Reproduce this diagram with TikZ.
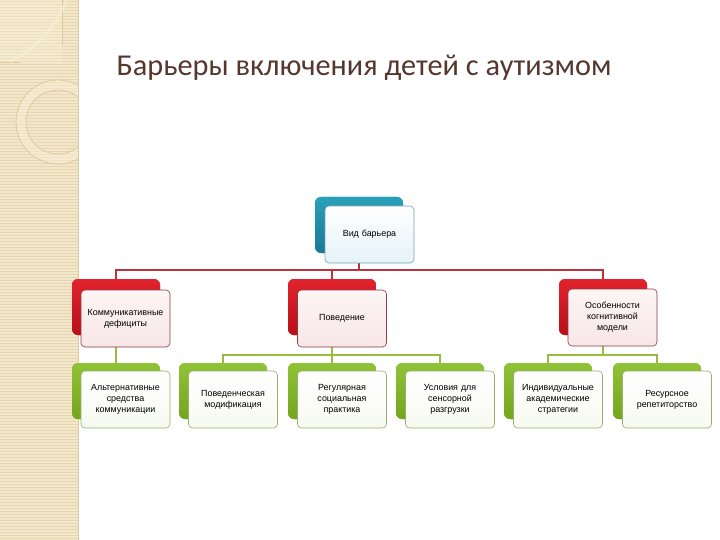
\documentclass[tikz,border=0pt]{standalone}
\usepackage{fontspec}
\setmainfont{Liberation Sans}
\newfontfamily\titlefont{Carlito}
\definecolor{beige}{RGB}{243,231,203}
\definecolor{beigeline}{RGB}{232,214,176}
\definecolor{beigeedge}{RGB}{222,202,160}
\definecolor{beigelight}{RGB}{248,240,218}
\definecolor{beigedark}{RGB}{222,200,158}
\definecolor{titlecol}{RGB}{85,55,45}
\definecolor{tealA}{RGB}{40,160,185}
\definecolor{tealB}{RGB}{25,120,150}
\definecolor{redA}{RGB}{225,35,45}
\definecolor{redB}{RGB}{185,15,25}
\definecolor{greenA}{RGB}{145,195,55}
\definecolor{greenB}{RGB}{115,165,30}
\definecolor{redconncol}{RGB}{185,50,60}
\definecolor{greenconncol}{RGB}{150,190,60}
\definecolor{tealborder}{RGB}{120,160,180}
\definecolor{redborder}{RGB}{140,60,65}
\definecolor{greenborder}{RGB}{150,175,105}
\tikzset{
  backbox/.style={rounded corners=6pt, minimum width=88pt, minimum height=56pt, inner sep=0pt},
  tealback/.style={backbox, top color=tealA, bottom color=tealB},
  redback/.style={backbox, top color=redA, bottom color=redB},
  greenback/.style={backbox, top color=greenA, bottom color=greenB},
  frontbox/.style={rounded corners=4pt, minimum width=89pt, minimum height=57pt, inner sep=1pt,
     text width=87pt, align=center, font=\fontsize{8.9}{11}\selectfont, line width=0.6pt},
  tealfront/.style={frontbox, draw=tealborder, top color=white, bottom color={rgb,255:red,228;green,242;blue,247}},
  redfront/.style={frontbox, draw=redborder, top color={rgb,255:red,253;green,245;blue,245}, bottom color={rgb,255:red,247;green,230;blue,232}},
  greenfront/.style={frontbox, draw=greenborder, top color=white, bottom color={rgb,255:red,247;green,250;blue,240}},
  redconn/.style={draw=redconncol, line width=1.6pt},
  greenconn/.style={draw=greenconncol, line width=1.6pt},
}
\begin{document}
\begin{tikzpicture}[x=1pt,y=-1pt]
\useasboundingbox (0,0) rectangle (720,540);
\fill[white] (0,0) rectangle (720,540);
% left decorative strip
\fill[beige] (0,0) rectangle (78,540);
\foreach \yy in {1.5,4.5,...,540} {\draw[beigeline, line width=0.8pt] (0,\yy) -- (78,\yy);}
\begin{scope}
\clip (0,0) rectangle (78,540);
\fill[beigelight, opacity=0.35] (0,0) rectangle (62,62);
\draw[beigedark, line width=0.8pt] (0,62) -- (20,62);
\draw[beigedark, line width=0.8pt] (62,0) -- (62,45);
\draw[beigelight, opacity=0.6, line width=2.5pt] (10,62) .. controls (40,45) and (58,25) .. (66,0);
\draw[beigelight, opacity=0.45, line width=10pt] (58,122) circle (37);
\draw[beigedark, line width=0.8pt] (58,122) circle (42);
\draw[beigedark, line width=0.8pt] (58,122) circle (32);
\end{scope}
\draw[beigeedge, line width=1pt] (78,0) -- (78,540);
% title
\node[font=\titlefont\fontsize{30.3}{34}\selectfont, text=titlecol] (title) at (364,68) {Барьеры включения детей с аутизмом};
% bus coordinates
\coordinate (busA) at (0,270);
\coordinate (busB) at (0,355);
% back boxes positions (nodes)
\node[tealback] (topb) at (359,225) {};
\node[redback] (r1b) at (116,307) {};
\node[redback] (r2b) at (332,307) {};
\node[redback] (r3b) at (603,307) {};
\node[greenback] (g1b) at (116,391) {};
\node[greenback] (g2b) at (223,391) {};
\node[greenback] (g3b) at (332,391) {};
\node[greenback] (g4b) at (440,391) {};
\node[greenback] (g5b) at (548,391) {};
\node[greenback] (g6b) at (657,391) {};
% connectors
\draw[redconn] (topb.south) -- (topb.south |- busA) -| (r1b.north);
\draw[redconn] (topb.south |- busA) -| (r2b.north);
\draw[redconn] (topb.south |- busA) -| (r3b.north);
\draw[greenconn] (r1b.south) -- (g1b.north);
\draw[greenconn] (r2b.south) -- (r2b.south |- busB) -| (g2b.north);
\draw[greenconn] (r2b.south |- busB) -| (g3b.north);
\draw[greenconn] (r2b.south |- busB) -| (g4b.north);
\draw[greenconn] (r3b.south) -- (r3b.south |- busB) -| (g5b.north);
\draw[greenconn] (r3b.south |- busB) -| (g6b.north);
% redraw back boxes on top of connectors
\node[tealback] at (topb) {};
\foreach \n in {r1b,r2b,r3b} {\node[redback] at (\n) {};}
\foreach \n in {g1b,g2b,g3b,g4b,g5b,g6b} {\node[greenback] at (\n) {};}
% front boxes
\node[tealfront] (top) at (369.5,234.5) {Вид барьера};
\node[redfront] (r1) at (125.5,318.5) {Коммуникативные\\дефициты};
\node[redfront] (r2) at (342,318.5) {Поведение};
\node[redfront] (r3) at (612.5,317.5) {Особенности\\когнитивной\\модели};
\node[greenfront] (g1) at (125.5,399.5) {Альтернативные\\средства\\коммуникации};
\node[greenfront] (g2) at (233,399.5) {Поведенческая\\модификация};
\node[greenfront] (g3) at (342,399.5) {Регулярная\\социальная\\практика};
\node[greenfront] (g4) at (450,399.5) {Условия для\\сенсорной\\разгрузки};
\node[greenfront] (g5) at (558,399.5) {Индивидуальные\\академические\\стратегии};
\node[greenfront] (g6) at (667,399.5) {Ресурсное\\репетиторство};
\end{tikzpicture}
\end{document}
